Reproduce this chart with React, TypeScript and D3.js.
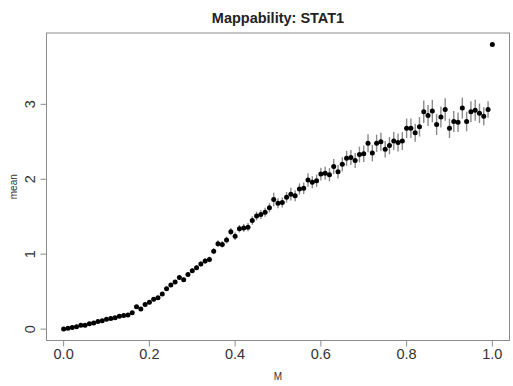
import { useEffect, useRef } from 'react'
import * as d3 from 'd3'

// M value (bin) of each point
const mValues = [
  0.0, 0.01, 0.02, 0.03, 0.04, 0.05, 0.06, 0.07, 0.08, 0.09,
  0.1, 0.11, 0.12, 0.13, 0.14, 0.15, 0.16, 0.17, 0.18, 0.19,
  0.2, 0.21, 0.22, 0.23, 0.24, 0.25, 0.26, 0.27, 0.28, 0.29,
  0.3, 0.31, 0.32, 0.33, 0.34, 0.35, 0.36, 0.37, 0.38, 0.39,
  0.4, 0.41, 0.42, 0.43, 0.44, 0.45, 0.46, 0.47, 0.48, 0.49,
  0.5, 0.51, 0.52, 0.53, 0.54, 0.55, 0.56, 0.57, 0.58, 0.59,
  0.6, 0.61, 0.62, 0.63, 0.64, 0.65, 0.66, 0.67, 0.68, 0.69,
  0.7, 0.71, 0.72, 0.73, 0.74, 0.75, 0.76, 0.77, 0.78, 0.79,
  0.8, 0.81, 0.82, 0.83, 0.84, 0.85, 0.86, 0.87, 0.88, 0.89,
  0.9, 0.91, 0.92, 0.93, 0.94, 0.95, 0.96, 0.97, 0.98, 0.99,
  1.0,
]

// mean per bin
const meanValues = [
  0.0, 0.01, 0.02, 0.03, 0.05, 0.05, 0.07, 0.08, 0.1, 0.11,
  0.13, 0.14, 0.15, 0.17, 0.18, 0.19, 0.22, 0.3, 0.27, 0.33,
  0.36, 0.4, 0.42, 0.47, 0.54, 0.59, 0.63, 0.69, 0.66, 0.73,
  0.78, 0.82, 0.87, 0.91, 0.93, 1.04, 1.14, 1.13, 1.19, 1.3,
  1.24, 1.34, 1.35, 1.36, 1.45, 1.51, 1.53, 1.56, 1.62, 1.73,
  1.68, 1.69, 1.76, 1.8, 1.78, 1.87, 1.88, 1.99, 1.96, 1.98,
  2.07, 2.08, 2.06, 2.17, 2.1, 2.2, 2.28, 2.29, 2.25, 2.33,
  2.34, 2.48, 2.35, 2.48, 2.5, 2.4, 2.45, 2.51, 2.49, 2.51,
  2.68, 2.68, 2.62, 2.7, 2.9, 2.85, 2.91, 2.73, 2.83, 2.93,
  2.68, 2.77, 2.76, 2.95, 2.77, 2.9, 2.92, 2.88, 2.84, 2.93,
  3.8,
]

// half-length of the error bar per bin
const errValues = [
  0.005, 0.005, 0.005, 0.005, 0.006, 0.006, 0.007, 0.007, 0.008, 0.008,
  0.01, 0.01, 0.01, 0.012, 0.012, 0.013, 0.014, 0.015, 0.015, 0.016,
  0.018, 0.02, 0.02, 0.022, 0.024, 0.025, 0.026, 0.028, 0.03, 0.03,
  0.032, 0.034, 0.035, 0.036, 0.038, 0.04, 0.045, 0.042, 0.045, 0.048,
  0.05, 0.05, 0.052, 0.055, 0.056, 0.058, 0.06, 0.06, 0.062, 0.09,
  0.066, 0.068, 0.07, 0.085, 0.072, 0.075, 0.076, 0.09, 0.08, 0.082,
  0.085, 0.086, 0.088, 0.1, 0.09, 0.095, 0.1, 0.1, 0.1, 0.105,
  0.11, 0.12, 0.11, 0.115, 0.12, 0.11, 0.115, 0.12, 0.12, 0.12,
  0.13, 0.13, 0.12, 0.13, 0.15, 0.14, 0.15, 0.14, 0.14, 0.15,
  0.13, 0.14, 0.13, 0.14, 0.13, 0.14, 0.14, 0.13, 0.12, 0.11,
  0,
]

const xTicks = [0, 0.2, 0.4, 0.6, 0.8, 1.0]
const yTicks = [0, 1, 2, 3]

export default function App() {
  const svgRef = useRef<SVGSVGElement>(null)

  useEffect(() => {
    if (!svgRef.current) return
    const svg = d3.select(svgRef.current)
    svg.selectAll('*').remove()

    const width = 513
    const height = 386
    const box = { left: 46.5, right: 509.5, top: 33, bottom: 340.5 }
    const font = "'Liberation Sans', Arial, Helvetica, sans-serif"

    // R-style 4% padding of the data range
    const xScale = d3.scaleLinear().domain([-0.04, 1.04]).range([box.left, box.right])
    const yScale = d3.scaleLinear().domain([-0.152, 3.952]).range([box.bottom, box.top])

    svg.attr('width', width).attr('height', height)

    const data = mValues.map((m, i) => ({ m, mean: meanValues[i], err: errValues[i] }))

    // Error bars
    svg
      .append('g')
      .selectAll('line')
      .data(data.filter((d) => d.err > 0))
      .enter()
      .append('line')
      .attr('x1', (d) => xScale(d.m))
      .attr('x2', (d) => xScale(d.m))
      .attr('y1', (d) => yScale(d.mean - d.err))
      .attr('y2', (d) => yScale(d.mean + d.err))
      .attr('stroke', '#8a8a8a')
      .attr('stroke-width', 1.4)

    // Points
    svg
      .append('g')
      .selectAll('circle')
      .data(data)
      .enter()
      .append('circle')
      .attr('cx', (d) => xScale(d.m))
      .attr('cy', (d) => yScale(d.mean))
      .attr('r', 2.5)
      .attr('fill', '#000')

    // Box
    svg
      .append('rect')
      .attr('x', box.left)
      .attr('y', box.top)
      .attr('width', box.right - box.left)
      .attr('height', box.bottom - box.top)
      .attr('fill', 'none')
      .attr('stroke', '#8c8c8c')
      .attr('stroke-width', 1)

    // X axis
    const xAxis = svg.append('g')
    xAxis
      .selectAll('line')
      .data(xTicks)
      .enter()
      .append('line')
      .attr('x1', (d) => xScale(d))
      .attr('x2', (d) => xScale(d))
      .attr('y1', box.bottom)
      .attr('y2', box.bottom + 6)
      .attr('stroke', '#8c8c8c')
    xAxis
      .selectAll('text')
      .data(xTicks)
      .enter()
      .append('text')
      .attr('x', (d) => xScale(d))
      .attr('y', 358.5)
      .attr('text-anchor', 'middle')
      .attr('font-family', font)
      .attr('font-size', '14.5px')
      .attr('fill', '#333')
      .text((d) => d3.format('.1f')(d))

    // Y axis
    const yAxis = svg.append('g')
    yAxis
      .selectAll('line')
      .data(yTicks)
      .enter()
      .append('line')
      .attr('x1', box.left - 6)
      .attr('x2', box.left)
      .attr('y1', (d) => yScale(d))
      .attr('y2', (d) => yScale(d))
      .attr('stroke', '#8c8c8c')
    yAxis
      .selectAll('text')
      .data(yTicks)
      .enter()
      .append('text')
      .attr('transform', (d) => `translate(35,${yScale(d)}) rotate(-90)`)
      .attr('text-anchor', 'middle')
      .attr('font-family', font)
      .attr('font-size', '14.5px')
      .attr('fill', '#333')
      .text((d) => String(d))

    // Title
    svg
      .append('text')
      .attr('x', (box.left + box.right) / 2)
      .attr('y', 23)
      .attr('text-anchor', 'middle')
      .attr('font-family', font)
      .attr('font-size', '14.5px')
      .attr('font-weight', 'bold')
      .attr('fill', '#222')
      .text('Mappability: STAT1')

    // Axis labels
    svg
      .append('text')
      .attr('x', (box.left + box.right) / 2)
      .attr('y', 380)
      .attr('text-anchor', 'middle')
      .attr('font-family', font)
      .attr('font-size', '10px')
      .attr('fill', '#333')
      .text('M')

    svg
      .append('text')
      .attr('transform', `translate(17,${(box.top + box.bottom) / 2}) rotate(-90)`)
      .attr('text-anchor', 'middle')
      .attr('font-family', font)
      .attr('font-size', '10px')
      .attr('fill', '#333')
      .text('mean')
  }, [])

  return (
    <div style={{ position: 'absolute', left: 0, top: 0, background: '#fff' }}>
      <svg ref={svgRef} style={{ display: 'block' }}></svg>
    </div>
  )
}
